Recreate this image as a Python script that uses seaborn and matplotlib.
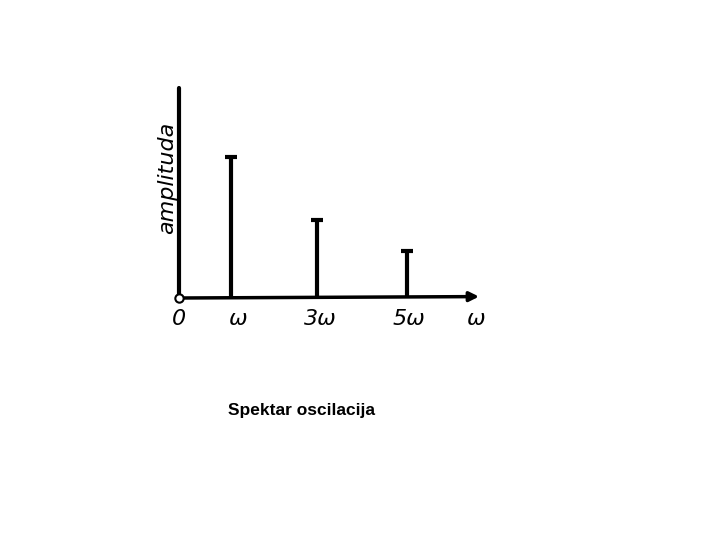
import matplotlib
matplotlib.use("Agg")
import matplotlib.pyplot as plt
import seaborn as sns
import pandas as pd

sns.set_theme(style="white")
plt.rcParams['font.family'] = ['DejaVu Sans']
plt.rcParams['text.color'] = 'black'
plt.rcParams['axes.labelcolor'] = 'black'
plt.rcParams['xtick.color'] = 'black'

# harmonics (horizontal position in units, relative amplitude)
harmonics = ["ω", "3ω", "5ω"]
freq = [1.21, 3.21, 5.30]
amplitude = [1.0, 0.55, 0.33]
tick_labels = ["0", "ω", "3ω", "5ω", "ω"]
tick_pos = [0, 1.37, 3.28, 5.35, 6.90]

df = pd.DataFrame({"harmonic": harmonics, "freq": freq, "amplitude": amplitude})

fig = plt.figure(figsize=(7.2, 5.4), dpi=100)
ax = fig.add_axes([179 / 720, 1 - 298 / 540, 300 / 720, 210 / 540])
ax.set_xlim(0, 6.97)
ax.set_ylim(0, 1.49)
for s in ax.spines.values():
    s.set_visible(False)

# stems
ax.vlines(df["freq"], 0, df["amplitude"], color="black", linewidth=3)
sns.scatterplot(data=df, x="freq", y="amplitude", marker="_", s=70,
                color="black", linewidth=3, ax=ax, legend=False, zorder=3)

# axes drawn by hand
ax.plot([0, 0], [0, 1.49], color="black", linewidth=3, clip_on=False)
ax.annotate("", xy=(6.97, 0.01), xytext=(0, 0),
            arrowprops=dict(arrowstyle="-|>", color="black", lw=2.5,
                            mutation_scale=14, shrinkA=0, shrinkB=0),
            annotation_clip=False)
ax.plot([0], [0], marker="o", markersize=6, markerfacecolor="white",
        markeredgecolor="black", markeredgewidth=1.5, clip_on=False, zorder=4)

ax.set_xticks(tick_pos)
ax.set_xticklabels(tick_labels, fontsize=16, style="italic")
ax.tick_params(axis="x", length=0, pad=8)
ax.set_yticks([])
ax.set_xlabel("")
ax.set_ylabel("amplituda", fontsize=16, style="italic")
ax.yaxis.set_label_coords(-0.008, 0.57)

fig.text(302 / 720, 1 - 410 / 540, "Spektar oscilacija", ha="center", va="center",
         fontsize=12.5, fontweight="bold", family=["Liberation Sans", "DejaVu Sans"])

fig.savefig("out.png", dpi=100)
